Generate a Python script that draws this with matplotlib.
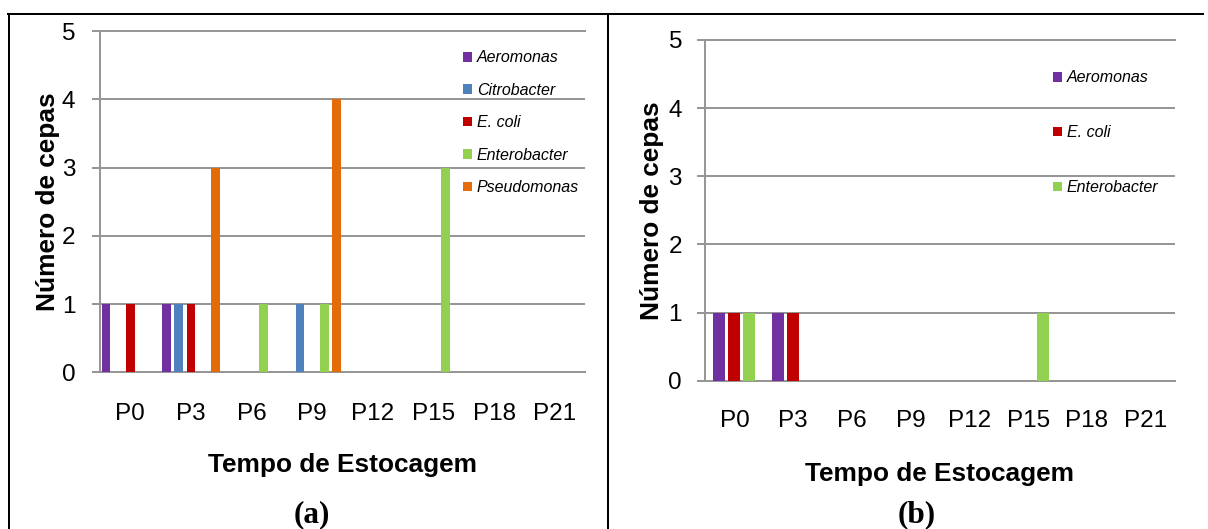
import matplotlib
matplotlib.use("Agg")
import matplotlib.pyplot as plt
import numpy as np
from matplotlib.lines import Line2D
from matplotlib.font_manager import FontProperties

plt.rcParams['font.family'] = ['Liberation Sans', 'DejaVu Sans']

# ---- data -------------------------------------------------------------
categories = ['P0', 'P3', 'P6', 'P9', 'P12', 'P15', 'P18', 'P21']

# panel (a)
aeromonas_a = [1, 1, 0, 0, 0, 0, 0, 0]
citrobacter_a = [0, 1, 0, 1, 0, 0, 0, 0]
ecoli_a = [1, 1, 0, 0, 0, 0, 0, 0]
enterobacter_a = [0, 0, 1, 1, 0, 3, 0, 0]
pseudomonas_a = [0, 3, 0, 4, 0, 0, 0, 0]

# panel (b)
aeromonas_b = [1, 1, 0, 0, 0, 0, 0, 0]
ecoli_b = [1, 1, 0, 0, 0, 0, 0, 0]
enterobacter_b = [1, 0, 0, 0, 0, 1, 0, 0]

series_a = [('Aeromonas', aeromonas_a), ('Citrobacter', citrobacter_a),
            ('E. coli', ecoli_a), ('Enterobacter', enterobacter_a),
            ('Pseudomonas', pseudomonas_a)]
series_b = [('Aeromonas', aeromonas_b), ('E. coli', ecoli_b),
            ('Enterobacter', enterobacter_b)]

colors = {'Aeromonas': '#7030A0', 'Citrobacter': '#4F81BD',
          'E. coli': '#C00000', 'Enterobacter': '#92D050',
          'Pseudomonas': '#E36C09'}

yticks = [0, 1, 2, 3, 4, 5]

# ---- figure -----------------------------------------------------------
W, H = 1208, 529
DPI = 100
fig = plt.figure(figsize=(W / DPI, H / DPI), dpi=DPI)

GRID = '#969696'
PX = 72 / DPI  # points per pixel
TICK_FS = 17.5
TITLE_FS = 18.9


def axes_from_px(x0, x1, y_top, y_bottom):
    return fig.add_axes([x0 / W, 1 - y_bottom / H, (x1 - x0) / W, (y_bottom - y_top) / H])


def draw_panel(ax, series, slot, frac, ypad, xpad, ylab_x, xlab_y,
               leg_anchor, leg_spacing):
    x = np.arange(len(categories))
    n = len(series)
    handles = []
    for i, (name, vals) in enumerate(series):
        off = (i - (n - 1) / 2) * slot
        b = ax.bar(x + off, vals, width=slot * frac, color=colors[name],
                   label=name, zorder=3)
        handles.append(b)
    ax.set_xlim(-0.5, len(categories) - 0.5)
    ax.set_ylim(0, 5)
    ax.set_yticks(yticks)
    ax.set_xticks(x)
    ax.set_xticklabels(categories)
    ax.grid(axis='y', color=GRID, linewidth=2 * PX, zorder=0)
    ax.set_axisbelow(True)
    for s in ('left', 'top', 'bottom'):
        ax.spines[s].set_color(GRID)
        ax.spines[s].set_linewidth(2 * PX)
    ax.spines['right'].set_visible(False)
    ax.tick_params(axis='y', length=8 * PX, width=2 * PX, color=GRID,
                   pad=ypad * PX, labelsize=TICK_FS, labelcolor='black')
    ax.tick_params(axis='x', length=0, pad=xpad * PX, labelsize=TICK_FS,
                   labelcolor='black')
    ax.set_ylabel('Número de cepas', fontsize=TITLE_FS, fontweight='bold')
    ax.yaxis.set_label_coords(ylab_x, 0.5)
    ax.yaxis.label.set_va('center')
    ax.set_xlabel('Tempo de Estocagem', fontsize=TITLE_FS, fontweight='bold')
    ax.xaxis.set_label_coords(0.5, xlab_y)
    ax.xaxis.label.set_va('center')
    ax.legend(handles=handles, loc='upper left', bbox_to_anchor=leg_anchor,
              frameon=False, borderpad=0, borderaxespad=0,
              prop=FontProperties(family='Liberation Sans', style='italic', size=11.5),
              handlelength=0.55, handleheight=0.55, handletextpad=0.3,
              labelspacing=leg_spacing)


# panel (a)
ax_a = axes_from_px(100, 585, 31, 372.3)
draw_panel(ax_a, series_a, slot=0.2, frac=0.72, ypad=16.7, xpad=30.5,
           ylab_x=(47.7 - 100) / 485, xlab_y=(372.3 - 465) / 341.3,
           leg_anchor=((463.3 - 100) / 485, (372.3 - 50.5) / 341.3),
           leg_spacing=1.09)

# panel (b)
ax_b = axes_from_px(705, 1175, 40, 380.7)
draw_panel(ax_b, series_b, slot=0.256, frac=0.8, ypad=15, xpad=29.5,
           ylab_x=(651.8 - 705) / 470, xlab_y=(380.7 - 474) / 340.7,
           leg_anchor=((1053.3 - 705) / 470, (380.7 - 70.5) / 340.7),
           leg_spacing=2.49)

# panel captions
fig.text(312 / W, 1 - 515 / H, '(a)', ha='center', va='center',
         family='Liberation Serif', fontweight='bold', fontsize=22.5)
fig.text(917 / W, 1 - 515 / H, '(b)', ha='center', va='center',
         family='Liberation Serif', fontweight='bold', fontsize=22.5)

# table frame around the two panels
frame_lw = 2 * PX
for (xa, ya, xb, yb) in [(8, 14, 1203, 14), (9, 14, 9, 529), (608, 14, 608, 529)]:
    fig.add_artist(Line2D([xa / W, xb / W], [1 - ya / H, 1 - yb / H],
                          transform=fig.transFigure, color='black',
                          linewidth=frame_lw))

fig.savefig('out.png', dpi=DPI)
